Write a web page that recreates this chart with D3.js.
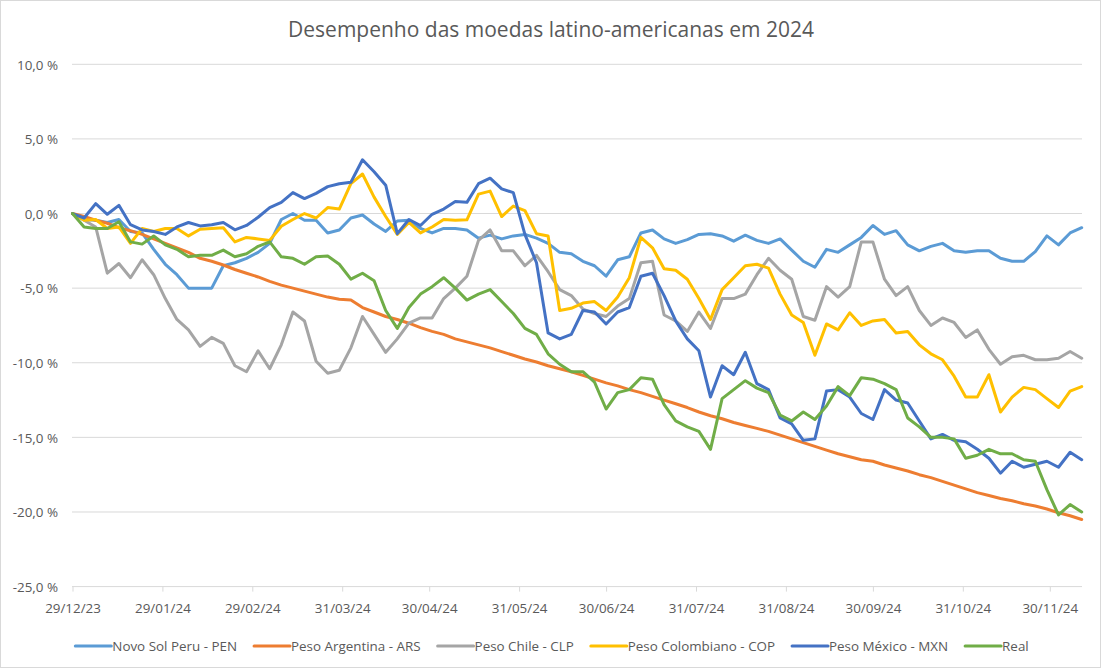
<!DOCTYPE html>
<html>
<head>
<meta charset="utf-8">
<script src="https://cdn.jsdelivr.net/npm/d3@7"></script>
<style>
html, body { margin: 0; padding: 0; background: #ffffff; }
svg { display: block; font-family: "Open Sans", Lato, sans-serif; }
</style>
</head>
<body>
<svg id="chart" width="1101" height="668"></svg>
<script>
const chartTitle = "Desempenho das moedas latino-americanas em 2024";

const dates = ["2023-12-29","2024-01-02","2024-01-06","2024-01-10","2024-01-14","2024-01-18","2024-01-22","2024-01-26","2024-01-30","2024-02-03","2024-02-07","2024-02-11","2024-02-15","2024-02-19","2024-02-23","2024-02-27","2024-03-02","2024-03-06","2024-03-10","2024-03-14","2024-03-18","2024-03-22","2024-03-26","2024-03-30","2024-04-03","2024-04-07","2024-04-11","2024-04-15","2024-04-19","2024-04-23","2024-04-27","2024-05-01","2024-05-05","2024-05-09","2024-05-13","2024-05-17","2024-05-21","2024-05-25","2024-05-29","2024-06-02","2024-06-06","2024-06-10","2024-06-14","2024-06-18","2024-06-22","2024-06-26","2024-06-30","2024-07-04","2024-07-08","2024-07-12","2024-07-16","2024-07-20","2024-07-24","2024-07-28","2024-08-01","2024-08-05","2024-08-09","2024-08-13","2024-08-17","2024-08-21","2024-08-25","2024-08-29","2024-09-02","2024-09-06","2024-09-10","2024-09-14","2024-09-18","2024-09-22","2024-09-26","2024-09-30","2024-10-04","2024-10-08","2024-10-12","2024-10-16","2024-10-20","2024-10-24","2024-10-28","2024-11-01","2024-11-05","2024-11-09","2024-11-13","2024-11-17","2024-11-21","2024-11-25","2024-11-29","2024-12-03","2024-12-07","2024-12-11"];

const seriesNames = ["Novo Sol Peru - PEN","Peso Argentina - ARS","Peso Chile - CLP","Peso Colombiano - COP","Peso México - MXN","Real"];
const seriesColors = ["#5B9BD5","#ED7D31","#A5A5A5","#FFC000","#4472C4","#70AD47"];

const pen = [0,-0.4,-0.45,-0.6,-0.4,-1.2,-1.3,-2.4,-3.4,-4.1,
  -5.0,-5.0,-5.0,-3.5,-3.3,-3.0,-2.6,-2.0,-0.4,0.0,
  -0.45,-0.45,-1.3,-1.1,-0.3,-0.1,-0.7,-1.2,-0.5,-0.45,
  -1.0,-1.3,-1.0,-1.0,-1.1,-1.65,-1.45,-1.7,-1.5,-1.4,
  -1.65,-2.0,-2.6,-2.7,-3.2,-3.5,-4.2,-3.1,-2.9,-1.3,
  -1.1,-1.7,-2.0,-1.75,-1.4,-1.35,-1.5,-1.85,-1.45,-1.8,
  -2.0,-1.7,-2.45,-3.2,-3.6,-2.4,-2.6,-2.1,-1.6,-0.8,
  -1.4,-1.15,-2.1,-2.5,-2.2,-2.0,-2.5,-2.6,-2.5,-2.5,
  -3.0,-3.2,-3.2,-2.55,-1.5,-2.1,-1.3,-0.95];

const ars = [0,-0.2,-0.45,-0.65,-0.95,-1.15,-1.4,-1.7,-2.0,-2.3,
  -2.6,-3.0,-3.2,-3.45,-3.75,-4.0,-4.25,-4.55,-4.8,-5.0,
  -5.2,-5.4,-5.6,-5.75,-5.8,-6.3,-6.6,-6.9,-7.1,-7.35,
  -7.65,-7.9,-8.1,-8.4,-8.6,-8.8,-9.0,-9.25,-9.5,-9.75,
  -9.95,-10.2,-10.4,-10.6,-10.85,-11.1,-11.35,-11.55,-11.8,-12.0,
  -12.25,-12.5,-12.75,-13.0,-13.3,-13.55,-13.75,-14.0,-14.2,-14.4,
  -14.6,-14.85,-15.1,-15.35,-15.6,-15.85,-16.1,-16.3,-16.5,-16.6,
  -16.85,-17.05,-17.25,-17.5,-17.7,-17.95,-18.2,-18.45,-18.7,-18.9,
  -19.1,-19.25,-19.45,-19.6,-19.8,-20.05,-20.25,-20.5];

const clp = [0,-0.45,-0.9,-4.0,-3.35,-4.3,-3.1,-4.1,-5.7,-7.1,
  -7.8,-8.9,-8.3,-8.7,-10.2,-10.6,-9.2,-10.4,-8.8,-6.6,
  -7.2,-9.9,-10.7,-10.5,-9.0,-6.9,-8.1,-9.3,-8.4,-7.35,
  -7.0,-7.0,-5.7,-5.0,-4.2,-1.8,-1.1,-2.5,-2.5,-3.5,
  -2.8,-3.9,-5.1,-5.5,-6.4,-6.7,-6.9,-6.2,-5.7,-3.3,
  -3.2,-6.8,-7.2,-7.9,-6.6,-7.7,-5.7,-5.7,-5.4,-4.1,
  -3.0,-3.8,-4.4,-6.9,-7.15,-4.9,-5.6,-4.9,-1.9,-1.9,
  -4.4,-5.5,-4.9,-6.5,-7.5,-7.0,-7.3,-8.3,-7.8,-9.1,
  -10.1,-9.6,-9.5,-9.8,-9.8,-9.7,-9.25,-9.7];

const cop = [0,-0.45,-0.4,-1.0,-0.9,-2.0,-1.0,-1.2,-1.0,-1.0,
  -1.5,-1.05,-1.0,-0.95,-1.9,-1.6,-1.7,-1.8,-0.85,-0.4,
  0.0,-0.3,0.4,0.3,2.0,2.65,1.1,-0.2,-1.4,-0.6,
  -1.3,-0.9,-0.4,-0.45,-0.42,1.3,1.5,-0.2,0.5,0.2,
  -1.35,-1.5,-6.5,-6.35,-6.0,-5.9,-6.5,-5.6,-4.3,-1.6,
  -2.3,-3.7,-3.8,-4.4,-5.7,-7.1,-5.1,-4.3,-3.5,-3.4,
  -3.66,-5.4,-6.8,-7.3,-9.5,-7.4,-7.8,-6.65,-7.5,-7.2,
  -7.1,-8.0,-7.9,-8.8,-9.4,-9.8,-10.9,-12.3,-12.3,-10.8,
  -13.3,-12.3,-11.65,-11.8,-12.4,-13.0,-11.9,-11.6];

const mxn = [0,-0.3,0.66,-0.05,0.55,-0.75,-1.1,-1.2,-1.4,-0.9,
  -0.6,-0.83,-0.75,-0.6,-1.09,-0.8,-0.25,0.4,0.75,1.4,
  1.0,1.35,1.8,2.0,2.1,3.6,2.8,1.9,-1.35,-0.4,
  -0.8,-0.05,0.3,0.8,0.75,2.0,2.37,1.65,1.4,-1.4,
  -3.3,-8.0,-8.4,-8.1,-6.5,-6.6,-7.4,-6.6,-6.3,-4.2,
  -4.0,-5.5,-7.2,-8.4,-9.2,-12.3,-10.2,-10.8,-9.3,-11.4,
  -11.8,-13.7,-14.1,-15.2,-15.1,-11.9,-11.8,-12.3,-13.4,-13.8,
  -11.8,-12.5,-12.7,-13.9,-15.1,-14.8,-15.2,-15.3,-15.8,-16.4,
  -17.4,-16.6,-17.0,-16.8,-16.6,-17.0,-16.0,-16.5];

const real = [0,-0.9,-1.0,-1.0,-0.55,-1.9,-2.05,-1.5,-2.1,-2.4,
  -2.9,-2.8,-2.8,-2.45,-2.9,-2.7,-2.2,-1.9,-2.9,-3.0,
  -3.4,-2.9,-2.85,-3.4,-4.4,-4.0,-4.5,-6.5,-7.7,-6.3,
  -5.4,-4.9,-4.3,-5.0,-5.8,-5.4,-5.1,-5.9,-6.7,-7.7,
  -8.1,-9.4,-10.1,-10.6,-10.6,-11.3,-13.1,-12.0,-11.8,-11.0,
  -11.1,-12.8,-13.9,-14.3,-14.6,-15.8,-12.4,-11.8,-11.2,-11.7,
  -12.0,-13.5,-13.9,-13.3,-13.8,-12.9,-11.6,-12.2,-11.0,-11.1,
  -11.4,-11.8,-13.7,-14.3,-15.0,-15.0,-15.1,-16.4,-16.2,-15.8,
  -16.1,-16.1,-16.5,-16.6,-18.5,-20.2,-19.5,-20.0];

const yTicks = [10,5,0,-5,-10,-15,-20,-25];
const xTickDates = ["2023-12-29","2024-01-29","2024-02-29","2024-03-31","2024-04-30","2024-05-31","2024-06-30","2024-07-31","2024-08-31","2024-09-30","2024-10-31","2024-11-30"];

// ---- drawing ----
const svg = d3.select("#chart");
const textColor = "#595959";
const gridColor = "#D9D9D9";
const fontFamily = "'Open Sans', Lato, sans-serif";
const labelSize = 13.4;

svg.append("rect").attr("x",0.5).attr("y",0.5).attr("width",1100).attr("height",667)
  .attr("fill","#ffffff").attr("stroke",gridColor).attr("stroke-width",1);

const parse = d3.utcParse("%Y-%m-%d");
const plotLeft = 72, plotRight = 1082;
const x = d3.scaleUtc()
  .domain([parse(dates[0]), parse(dates[dates.length-1])])
  .range([72.5, 1081.7]);
const y = d3.scaleLinear().domain([-25, 10]).range([586.6, 64.3]);

const loc = d3.formatLocale({decimal: ",", thousands: ".", grouping: [3], currency: ["", ""], minus: "-"});
const fmt = loc.format(".1f");

// gridlines
svg.append("g").selectAll("line").data(yTicks).join("line")
  .attr("x1", plotLeft).attr("x2", plotRight)
  .attr("y1", d => y(d)).attr("y2", d => y(d))
  .attr("stroke", gridColor).attr("stroke-width", 1);

// y axis labels
const yAxis = d3.axisLeft(y).tickValues(yTicks).tickSize(0).tickPadding(0)
  .tickFormat(d => fmt(d) + " %");
const yg = svg.append("g").attr("transform", "translate(58,0)").call(yAxis);
yg.select(".domain").remove();
yg.selectAll("text").attr("font-family", fontFamily).attr("font-size", labelSize)
  .attr("fill", textColor).attr("dy", "0.36em");

// x axis
const xAxis = d3.axisBottom(x).tickValues(xTickDates.map(parse)).tickSize(5).tickPadding(13)
  .tickFormat(d3.utcFormat("%d/%m/%y"));
const xg = svg.append("g").attr("transform", `translate(0,${y(-25)})`).call(xAxis);
xg.select(".domain").remove();
xg.selectAll(".tick line").attr("stroke", gridColor);
xg.selectAll("text").attr("font-family", fontFamily).attr("font-size", labelSize)
  .attr("fill", textColor).attr("dy", "0.6em");

// series
const seriesData = [pen, ars, clp, cop, mxn, real];
const line = d3.line()
  .x((d, i) => x(parse(dates[i])))
  .y(d => y(d));
svg.append("g").selectAll("path").data(seriesData).join("path")
  .attr("d", d => line(d))
  .attr("fill", "none")
  .attr("stroke", (d, i) => seriesColors[i])
  .attr("stroke-width", 3)
  .attr("stroke-linejoin", "round")
  .attr("stroke-linecap", "round");

// title
svg.append("text").attr("x", 551).attr("y", 37).attr("text-anchor", "middle")
  .attr("font-family", fontFamily).attr("font-size", 21).attr("fill", textColor)
  .text(chartTitle);

// legend
const lg = svg.append("g");
const items = lg.selectAll("g").data(seriesNames).join("g");
items.append("line").attr("x1", 0).attr("x2", 36).attr("y1", 0).attr("y2", 0)
  .attr("stroke", (d, i) => seriesColors[i]).attr("stroke-width", 3).attr("stroke-linecap", "round");
items.append("text").attr("x", 37).attr("y", 0).attr("dy", "0.36em")
  .attr("font-family", fontFamily).attr("font-size", labelSize).attr("fill", textColor)
  .text(d => d);
const widths = [];
items.each(function() { widths.push(37 + d3.select(this).select("text").node().getComputedTextLength()); });
const gap = 17;
const total = d3.sum(widths) + gap * (widths.length - 1);
let cx = 552 - total / 2;
items.attr("transform", (d, i) => { const t = `translate(${cx},646)`; cx += widths[i] + gap; return t; });
</script>
</body>
</html>
